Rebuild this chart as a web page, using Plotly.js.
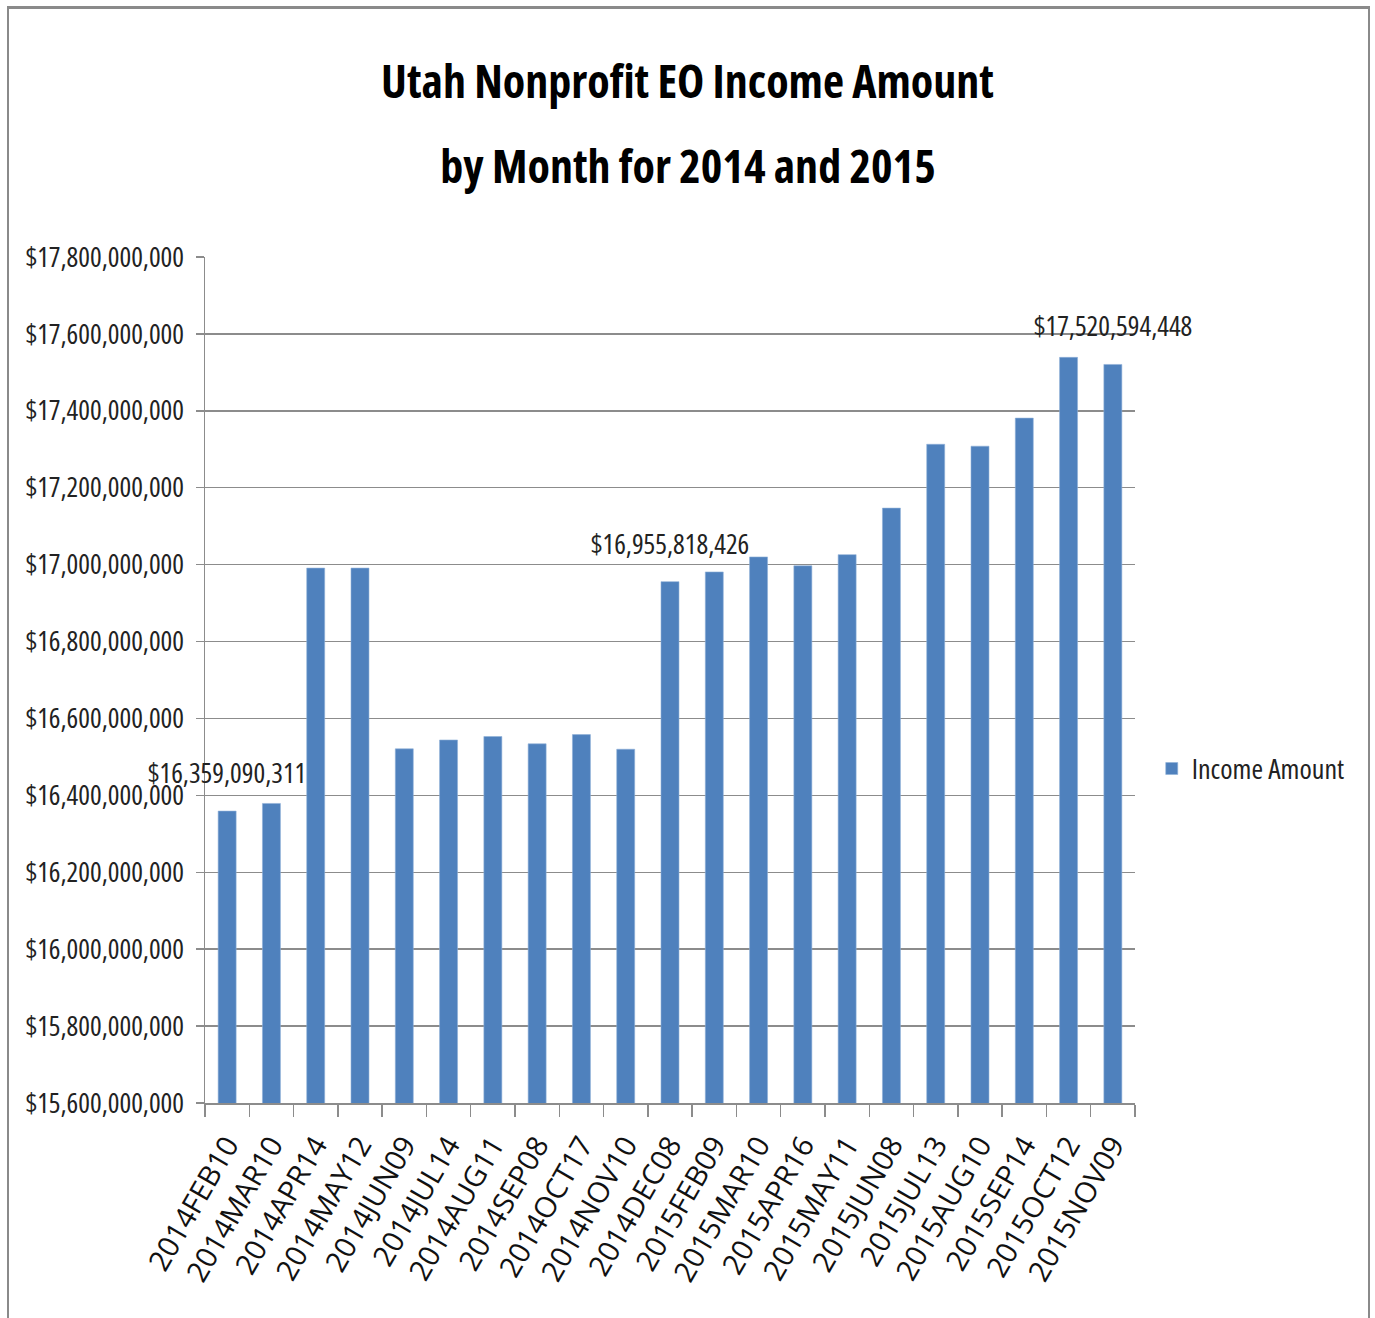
<!DOCTYPE html>
<html>
<head>
<meta charset="utf-8">
<script src="https://cdn.plot.ly/plotly-3.0.1.min.js"></script>
<style>
  html, body { margin: 0; padding: 0; background: #fff; }
  #wrap { position: relative; width: 1375px; height: 1318px; overflow: hidden; }
  #chart { position: absolute; left: 0; top: 0; width: 1375px; height: 1318px; }
  #frame { position: absolute; left: 7px; top: 6px; width: 1359px; height: 1340px;
           border: 2px solid #8a8a8a; border-top-width: 3px; border-bottom: none;
           pointer-events: none; z-index: 10; }
  /* condensed look of the original (Open Sans has a width axis) */
  #chart svg text { font-stretch: 75% !important; }
  #chart svg .xtick text { font-stretch: 100% !important; }
</style>
</head>
<body>
<div id="wrap">
  <div id="chart"></div>
  <div id="frame"></div>
</div>
<script>
// ---- Data ----
const categories = [
  '2014FEB10','2014MAR10','2014APR14','2014MAY12','2014JUN09','2014JUL14',
  '2014AUG11','2014SEP08','2014OCT17','2014NOV10','2014DEC08','2015FEB09',
  '2015MAR10','2015APR16','2015MAY11','2015JUN08','2015JUL13','2015AUG10',
  '2015SEP14','2015OCT12','2015NOV09'
];
const incomeAmount = [
  16359090311, 16379000000, 16991000000, 16991000000, 16521000000, 16544000000,
  16553000000, 16534000000, 16558000000, 16520000000, 16955818426, 16981000000,
  17020000000, 16997000000, 17026000000, 17147000000, 17313000000, 17308000000,
  17381000000, 17539000000, 17520594448
];
const labelledCategories = ['2014FEB10', '2014DEC08', '2015NOV09'];
const seriesName = 'Income Amount';
const titleLine1 = 'Utah Nonprofit EO Income Amount';
const titleLine2 = 'by Month for 2014 and 2015';

// ---- Styling ----
const FONT = '"Open Sans", "DejaVu Sans Condensed", sans-serif';
const GRID = '#8c8c8c';
const BAR = '#4F81BD';
const f = (size, color) => ({ family: FONT, size: size, color: color || '#222' });

const fmt = v => '$' + Math.round(v).toLocaleString('en-US');

const dataLabels = labelledCategories.map(c => {
  const i = categories.indexOf(c);
  return {
    x: c, y: incomeAmount[i], xref: 'x', yref: 'y',
    text: fmt(incomeAmount[i]), showarrow: false,
    yanchor: 'bottom', yshift: 18,
    font: f(27.5, '#222')
  };
});

const trace = {
  type: 'bar',
  x: categories,
  y: incomeAmount,
  name: seriesName,
  marker: { color: BAR, line: { color: '#8fb0d8', width: 0.6 } },
  hoverinfo: 'x+y'
};

const layout = {
  width: 1375, height: 1318,
  margin: { l: 205, r: 240, t: 257, b: 215, pad: 0, autoexpand: false },
  paper_bgcolor: '#ffffff', plot_bgcolor: '#ffffff',
  font: f(27.5, '#222'),
  title: {
    text: '<b>' + titleLine1 + '</b>',
    font: f(46, '#000'),
    x: 0.5, xref: 'container', xanchor: 'center',
    y: 1 - 82 / 1318, yref: 'container', yanchor: 'middle'
  },
  bargap: 0.594,
  showlegend: true,
  legend: {
    x: 1.018, y: 0.395, xanchor: 'left', yanchor: 'middle',
    font: f(28, '#222'),
    bgcolor: 'rgba(0,0,0,0)', borderwidth: 0
  },
  xaxis: {
    type: 'category',
    range: [-0.5, categories.length - 0.5],
    autorange: false,
    showgrid: false,
    showline: true, linecolor: GRID, linewidth: 1.5,
    ticks: 'outside', tickson: 'boundaries', ticklen: 12, tickcolor: GRID, tickwidth: 1.5,
    tickangle: -60,
    ticklabelstandoff: 12,
    tickfont: f(29, '#111'),
    automargin: false
  },
  yaxis: {
    range: [15.6e9, 17.8e9],
    autorange: false,
    dtick: 2e8, tick0: 15.6e9,
    tickformat: ',.0f', tickprefix: '$',
    showgrid: true, gridcolor: GRID, gridwidth: 1.5,
    zeroline: false,
    showline: true, linecolor: GRID, linewidth: 1.5,
    ticks: 'outside', ticklen: 8, tickcolor: GRID, tickwidth: 1.5,
    ticklabelstandoff: 6,
    tickfont: f(27.5, '#222'),
    automargin: false
  },
  annotations: [
    {
      text: '<b>' + titleLine2 + '</b>', showarrow: false,
      xref: 'paper', yref: 'paper',
      x: (688 - 205) / 930, y: (1103 - 165) / 846,
      xanchor: 'center', yanchor: 'middle',
      font: f(46, '#000')
    }
  ].concat(dataLabels)
};

Plotly.newPlot('chart', [trace], layout, { displayModeBar: false, staticPlot: true });
</script>
</body>
</html>
